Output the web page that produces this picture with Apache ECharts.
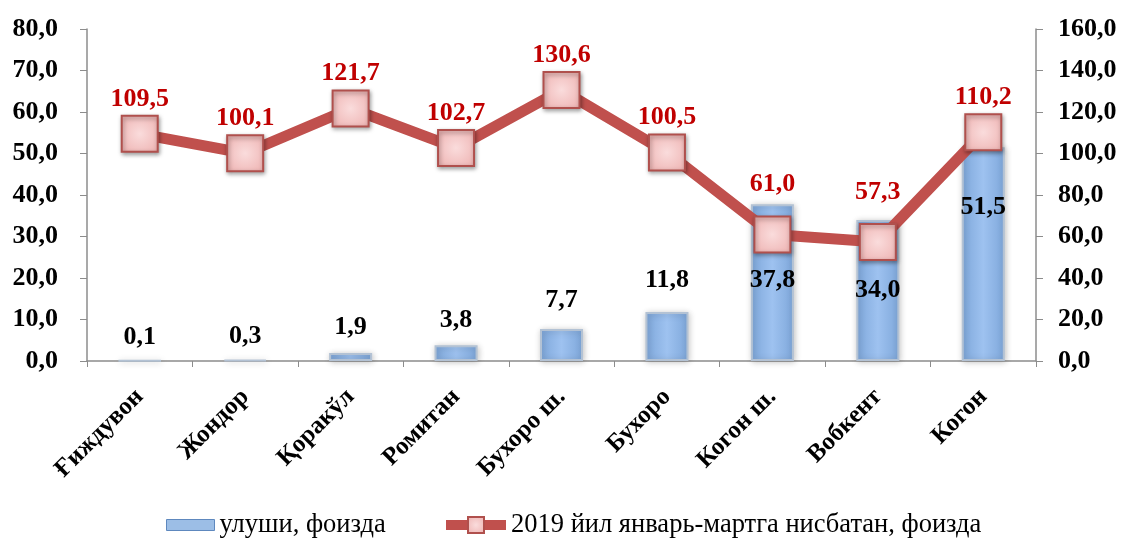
<!DOCTYPE html>
<html>
<head>
<meta charset="utf-8">
<script src="https://cdn.jsdelivr.net/npm/echarts@6/dist/echarts.min.js"></script>
<style>html,body{margin:0;padding:0;background:#fff;}#c{width:1123px;height:538px;}</style>
</head>
<body>
<div id="c"></div>
<script>
const categories = ['Ғиждувон','Жондор','Қоракўл','Ромитан','Бухоро ш.','Бухоро','Когон ш.','Вобкент','Когон'];
const shareValues = [0.1, 0.3, 1.9, 3.8, 7.7, 11.8, 37.8, 34.0, 51.5];
const ratioValues = [109.5, 100.1, 121.7, 102.7, 130.6, 100.5, 61.0, 57.3, 110.2];
const seriesNames = ['улуши, фоизда', '2019 йил январь-мартга нисбатан, фоизда'];

const fmt = v => Number(v).toFixed(1).replace('.', ',');
const FONT = '"Liberation Serif", "DejaVu Serif", serif';

// label placement (styling only)
const barInsideDist = {6: 63, 7: 57, 8: 47};
const barTopDist = {0: 10, 1: 10, 2: 13, 3: 12, 4: 16, 5: 19};
const lineLabelDist = {6: 18, 7: 18};
const barData = shareValues.map((v, i) => (barInsideDist[i] !== undefined)
  ? {value: v, label: {position: 'insideTop', distance: barInsideDist[i]}}
  : {value: v, label: {distance: barTopDist[i]}});
const lineData = ratioValues.map((v, i) => (lineLabelDist[i] !== undefined)
  ? {value: v, label: {distance: lineLabelDist[i]}}
  : {value: v});

const legendText = {fontFamily: FONT, fontSize: 26.5, color: '#000', lineHeight: 28};

const chart = echarts.init(document.getElementById('c'));
chart.setOption({
  backgroundColor: '#fff',
  animation: false,
  grid: {left: 87, right: 87, top: 29, bottom: 177},
  legend: [
    {
      left: 166, top: 511, padding: 0,
      textStyle: legendText,
      data: [{name: seriesNames[0], icon: 'rect',
        itemStyle: {color: '#9CBEE6', borderColor: '#5E88BE', borderWidth: 1}}],
      itemWidth: 48, itemHeight: 11
    },
    {
      left: 441, top: 511, padding: 0,
      textStyle: legendText,
      data: [{name: seriesNames[1], lineStyle: {width: 10, color: '#C0504D'}}],
      itemWidth: 60, itemHeight: 20
    }
  ],
  xAxis: {
    type: 'category',
    data: categories,
    axisLine: {lineStyle: {color: '#8C8C8C', width: 1.5}},
    axisTick: {show: true, length: 6, lineStyle: {color: '#8C8C8C'}},
    axisLabel: {
      rotate: 45, interval: 0, margin: 32,
      fontFamily: FONT, fontSize: 25, fontWeight: 'bold', color: '#000'
    }
  },
  yAxis: [
    {
      type: 'value', min: 0, max: 80, interval: 10,
      axisLine: {show: true, lineStyle: {color: '#8C8C8C', width: 1.5}},
      axisTick: {show: true, length: 7, lineStyle: {color: '#8C8C8C'}},
      splitLine: {show: false},
      axisLabel: {formatter: fmt, fontFamily: FONT, fontSize: 26, fontWeight: 'bold', color: '#000', margin: 29}
    },
    {
      type: 'value', min: 0, max: 160, interval: 20,
      axisLine: {show: true, lineStyle: {color: '#8C8C8C', width: 1.5}},
      axisTick: {show: true, length: 7, lineStyle: {color: '#8C8C8C'}},
      splitLine: {show: false},
      axisLabel: {formatter: fmt, fontFamily: FONT, fontSize: 26, fontWeight: 'bold', color: '#000', margin: 22}
    }
  ],
  series: [
    {
      name: seriesNames[0],
      type: 'bar',
      yAxisIndex: 0,
      barWidth: 43,
      data: barData,
      itemStyle: {
        color: new echarts.graphic.LinearGradient(0, 0, 1, 0, [
          {offset: 0, color: '#7EA7DA'},
          {offset: 0.5, color: '#9EC2F0'},
          {offset: 1, color: '#7EA7DA'}
        ]),
        borderColor: '#B3C2D4',
        borderWidth: 2,
        shadowColor: 'rgba(0,0,0,0.22)',
        shadowBlur: 6,
        shadowOffsetX: 1,
        shadowOffsetY: 1
      },
      label: {
        show: true, position: 'top', distance: 12,
        formatter: p => fmt(p.value),
        fontFamily: FONT, fontSize: 26, fontWeight: 'bold', color: '#000'
      },
      z: 2
    },
    {
      name: seriesNames[1],
      type: 'line',
      yAxisIndex: 1,
      data: lineData,
      symbol: 'rect',
      symbolSize: 36,
      lineStyle: {color: '#C0504D', width: 11},
      itemStyle: {
        color: new echarts.graphic.RadialGradient(0.5, 0.5, 0.7, [
          {offset: 0, color: '#FADCDC'},
          {offset: 1, color: '#EDB0AF'}
        ]),
        borderColor: '#B0504D',
        borderWidth: 2,
        shadowColor: 'rgba(0,0,0,0.35)',
        shadowBlur: 4,
        shadowOffsetX: 1,
        shadowOffsetY: 2
      },
      label: {
        show: true, position: 'top', distance: 3,
        formatter: p => fmt(p.value),
        fontFamily: FONT, fontSize: 26, fontWeight: 'bold', color: '#C00000'
      },
      z: 3
    }
  ]
});
</script>
</body>
</html>
